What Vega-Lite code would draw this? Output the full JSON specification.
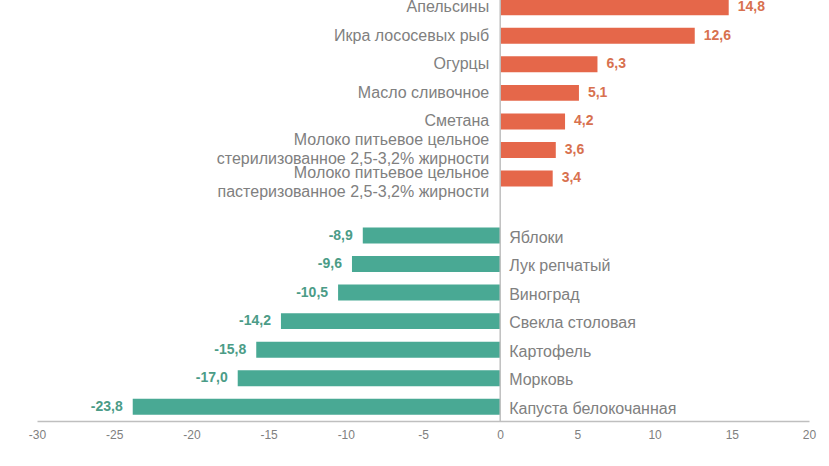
{
  "$schema": "https://vega.github.io/schema/vega-lite/v6.json",
  "autosize": {"type": "none"},
  "padding": {"left": 37, "top": -7, "right": 20, "bottom": 38},
  "width": 772,
  "height": 428,
  "background": "white",
  "config": {
    "view": {"stroke": null},
    "font": "Liberation Sans",
    "locale": {"number": {"decimal": ",", "thousands": " ", "grouping": [3], "currency": ["", ""], "minus": "-"}}
  },
  "data": {"values": [
    {"id": "a1", "name": "Апельсины", "value": 14.8, "lines": 1},
    {"id": "a2", "name": "Икра лососевых рыб", "value": 12.6, "lines": 1},
    {"id": "a3", "name": "Огурцы", "value": 6.3, "lines": 1},
    {"id": "a4", "name": "Масло сливочное", "value": 5.1, "lines": 1},
    {"id": "a5", "name": "Сметана", "value": 4.2, "lines": 1},
    {"id": "a6", "name": "Молоко питьевое цельное\nстерилизованное 2,5-3,2% жирности", "value": 3.6, "lines": 2},
    {"id": "a7", "name": "Молоко питьевое цельное\nпастеризованное 2,5-3,2% жирности", "value": 3.4, "lines": 2},
    {"id": "b1", "name": "Яблоки", "value": -8.9, "lines": 1},
    {"id": "b2", "name": "Лук репчатый", "value": -9.6, "lines": 1},
    {"id": "b3", "name": "Виноград", "value": -10.5, "lines": 1},
    {"id": "b4", "name": "Свекла столовая", "value": -14.2, "lines": 1},
    {"id": "b5", "name": "Картофель", "value": -15.8, "lines": 1},
    {"id": "b6", "name": "Морковь", "value": -17.0, "lines": 1},
    {"id": "b7", "name": "Капуста белокочанная", "value": -23.8, "lines": 1}
  ]},
  "encoding": {
    "y": {"field": "id", "type": "nominal",
      "scale": {"domain": ["a1","a2","a3","a4","a5","a6","a7","gap","b1","b2","b3","b4","b5","b6","b7"], "paddingInner": 0.44, "paddingOuter": 0.22},
      "axis": null}
  },
  "layer": [
    {
      "mark": {"type": "bar"},
      "encoding": {
        "x": {"field": "value", "type": "quantitative",
          "scale": {"domain": [-30, 20], "nice": false, "zero": false},
          "axis": {"title": null, "values": [-30,-25,-20,-15,-10,-5,0,5,10,15,20], "grid": false, "ticks": false, "labelFlush": false,
            "domainColor": "#BFBFBF", "domainWidth": 1.5, "labelColor": "#808080", "labelFontSize": 12, "labelPadding": 8, "format": "d"}},
        "color": {"condition": {"test": "datum.value > 0", "value": "#E5674A"}, "value": "#49A994"}
      }
    },
    {
      "mark": {"type": "rule", "color": "#BFBFBF", "strokeWidth": 1.5},
      "data": {"values": [{"v": 0}]},
      "encoding": {"x": {"field": "v", "type": "quantitative"}, "y": {"value": 0}, "y2": {"value": 428}}
    },
    {
      "transform": [{"filter": "datum.value > 0 && datum.lines == 1"}],
      "mark": {"type": "text", "align": "right", "baseline": "middle", "dx": -11, "dy": 0, "fontSize": 16, "color": "#808080"},
      "encoding": {"x": {"datum": 0, "type": "quantitative"}, "text": {"field": "name"}}
    },
    {
      "transform": [{"filter": "datum.id == 'a6'"}],
      "mark": {"type": "text", "align": "right", "baseline": "middle", "dx": -11, "dy": -10, "fontSize": 16, "color": "#808080", "lineBreak": "\n", "lineHeight": 19},
      "encoding": {"x": {"datum": 0, "type": "quantitative"}, "text": {"field": "name"}}
    },
    {
      "transform": [{"filter": "datum.id == 'a7'"}],
      "mark": {"type": "text", "align": "right", "baseline": "middle", "dx": -11, "dy": -5, "fontSize": 16, "color": "#808080", "lineBreak": "\n", "lineHeight": 19},
      "encoding": {"x": {"datum": 0, "type": "quantitative"}, "text": {"field": "name"}}
    },
    {
      "transform": [{"filter": "datum.value < 0"}],
      "mark": {"type": "text", "align": "left", "baseline": "middle", "dx": 9, "dy": 2, "fontSize": 16, "color": "#808080"},
      "encoding": {"x": {"datum": 0, "type": "quantitative"}, "text": {"field": "name"}}
    },
    {
      "transform": [{"filter": "datum.value > 0"}],
      "mark": {"type": "text", "align": "left", "baseline": "middle", "dx": 9, "fontSize": 14, "fontWeight": "bold", "color": "#D8714F"},
      "encoding": {"x": {"field": "value", "type": "quantitative"}, "text": {"field": "value", "type": "quantitative", "format": ".1f"}}
    },
    {
      "transform": [{"filter": "datum.value < 0"}],
      "mark": {"type": "text", "align": "right", "baseline": "middle", "dx": -10, "fontSize": 14, "fontWeight": "bold", "color": "#4B9C87"},
      "encoding": {"x": {"field": "value", "type": "quantitative"}, "text": {"field": "value", "type": "quantitative", "format": ".1f"}}
    }
  ]
}
